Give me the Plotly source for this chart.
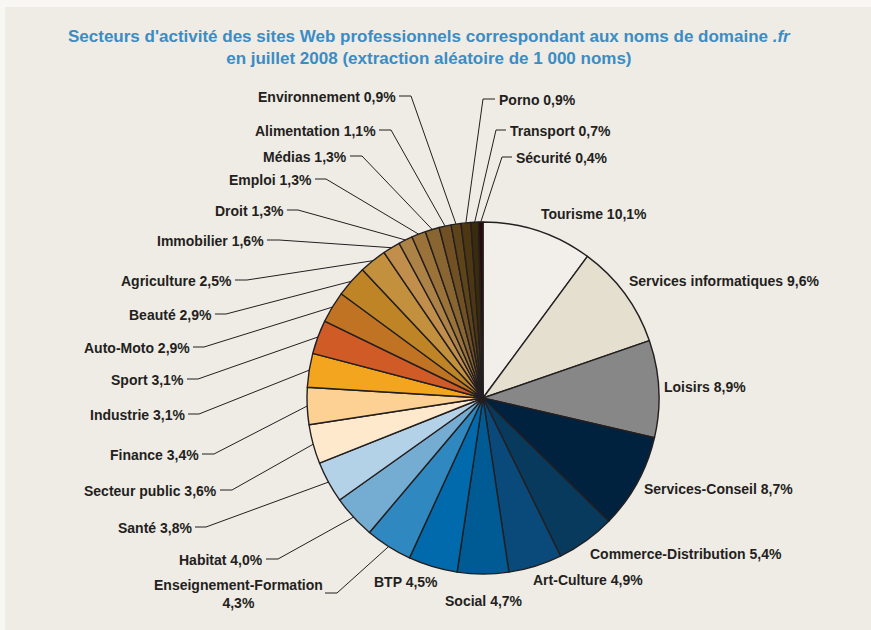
import math
import plotly.graph_objects as go

# ---------------- data ----------------
categories = ["Tourisme", "Services informatiques", "Loisirs", "Services-Conseil",
              "Commerce-Distribution", "Art-Culture", "Social", "BTP",
              "Enseignement-Formation", "Habitat", "Santé", "Secteur public",
              "Finance", "Industrie", "Sport", "Auto-Moto", "Beauté", "Agriculture",
              "Immobilier", "Droit", "Emploi", "Médias", "Alimentation",
              "Environnement", "Porno", "Transport", "Sécurité"]
values = [10.1, 9.6, 8.9, 8.7, 5.4, 4.9, 4.7, 4.5, 4.3, 4.0, 3.8, 3.6, 3.4, 3.1,
          3.1, 2.9, 2.9, 2.5, 1.6, 1.3, 1.3, 1.3, 1.1, 0.9, 0.9, 0.7, 0.4]
value_labels = ["10,1%", "9,6%", "8,9%", "8,7%", "5,4%", "4,9%", "4,7%", "4,5%",
                "4,3%", "4,0%", "3,8%", "3,6%", "3,4%", "3,1%", "3,1%", "2,9%",
                "2,9%", "2,5%", "1,6%", "1,3%", "1,3%", "1,3%", "1,1%", "0,9%",
                "0,9%", "0,7%", "0,4%"]

# ---------------- styles ----------------
colors = ["#f2efea", "#e5dfcf", "#868786", "#00223f", "#073a5d", "#0a4a7b",
          "#005a93", "#006aad", "#2f88c0", "#75acd2", "#b4d2e7", "#fee9cc",
          "#fdd194", "#f4a520", "#d05b27", "#c07322", "#be8426", "#c3913d",
          "#c28e4b", "#ad8246", "#9b7339", "#896531", "#715124", "#5e4419",
          "#4c3712", "#3b2b0d", "#2a0909"]

W, H = 871, 630
CX, CY, R = 483, 398, 176
TXT = "#231f20"

# label layout (pixel): text x, text y, xanchor, stub start x, stub end x (None = no leader)
label_layout = {
    "Tourisme": (539, 214, "left", None, None),
    "Services informatiques": (627, 281, "left", None, None),
    "Loisirs": (662, 387, "left", None, None),
    "Services-Conseil": (642, 489, "left", None, None),
    "Commerce-Distribution": (588, 554, "left", None, None),
    "Art-Culture": (531, 580, "left", None, None),
    "Social": (443, 601, "left", None, None),
    "BTP": (372, 582, "left", None, None),
    "Enseignement-Formation": (238, 594, "center", 325, 337),
    "Habitat": (265, 560, "right", 266, 278),
    "Santé": (194, 528, "right", 195, 206),
    "Secteur public": (219, 491, "right", 220, 232),
    "Finance": (201, 455, "right", 202, 214),
    "Industrie": (187, 415, "right", 188, 199),
    "Sport": (186, 380, "right", 187, 198),
    "Auto-Moto": (192, 348, "right", 193, 204),
    "Beauté": (214, 315, "right", 215, 226),
    "Agriculture": (234, 281, "right", 235, 247),
    "Immobilier": (266, 241, "right", 267, 279),
    "Droit": (286, 211, "right", 287, 298),
    "Emploi": (314, 180, "right", 315, 326),
    "Médias": (349, 157, "right", 350, 362),
    "Alimentation": (378, 131, "right", 379, 391),
    "Environnement": (398, 97, "right", 399, 411),
    "Porno": (497, 100, "left", 495, 483),
    "Transport": (508, 131, "left", 506, 496),
    "Sécurité": (514, 158, "left", 512, 502),
}


def px(x):
    return x / W


def py(y):
    return 1 - y / H


fig = go.Figure()
fig.add_trace(go.Pie(
    labels=categories, values=values, sort=False, direction="clockwise",
    rotation=0, textinfo="none", hoverinfo="label+percent",
    marker=dict(colors=colors, line=dict(color=TXT, width=1.4)),
    domain=dict(x=[px(CX - R), px(CX + R)], y=[py(CY + R), py(CY - R)]),
    showlegend=False,
))

shapes = [dict(type="rect", xref="paper", yref="paper", x0=px(5), x1=1, y0=0, y1=py(7),
               fillcolor="#efebe5", line=dict(width=0), layer="below")]
annotations = []

total = sum(values)
cum = 0.0
for name, v, lab in zip(categories, values, value_labels):
    mid = (cum + v / 2) / total * 2 * math.pi
    cum += v
    tx, ty, anchor, s0, s1 = label_layout[name]
    if name == "Enseignement-Formation":
        text = f"{name}<br>{lab}"
    else:
        text = f"{name} {lab}"
    annotations.append(dict(x=px(tx), y=py(ty), xref="paper", yref="paper", text=text,
                            showarrow=False, xanchor=anchor, yanchor="middle",
                            align="center",
                            font=dict(family="Liberation Sans, Arial", size=14,
                                      color=TXT, weight="bold")))
    if s0 is not None:
        rx = CX + R * math.sin(mid)
        ry = CY - R * math.cos(mid)
        stub_y = ty - 1
        path = (f"M {px(s0)} {py(stub_y)} L {px(s1)} {py(stub_y)} "
                f"L {px(rx)} {py(ry)}")
        shapes.append(dict(type="path", xref="paper", yref="paper", path=path,
                           line=dict(color=TXT, width=1)))

annotations.append(dict(
    x=px(429), y=py(48), xref="paper", yref="paper", showarrow=False,
    xanchor="center", yanchor="middle", align="center",
    text=("Secteurs d'activité des sites Web professionnels correspondant aux noms de domaine <i>.fr</i>"
          "<br>en juillet 2008 (extraction aléatoire de 1 000 noms)"),
    font=dict(family="Liberation Sans, Arial", size=17, color="#3a8dc4", weight="bold")))

fig.update_layout(
    width=W, height=H, margin=dict(l=0, r=0, t=0, b=0),
    paper_bgcolor="#f8f7f4", plot_bgcolor="#efebe5",
    shapes=shapes, annotations=annotations,
)
fig.write_html("out.html", config={"displayModeBar": False},
               post_script="document.body.style.margin='0';document.body.style.overflow='hidden';")
